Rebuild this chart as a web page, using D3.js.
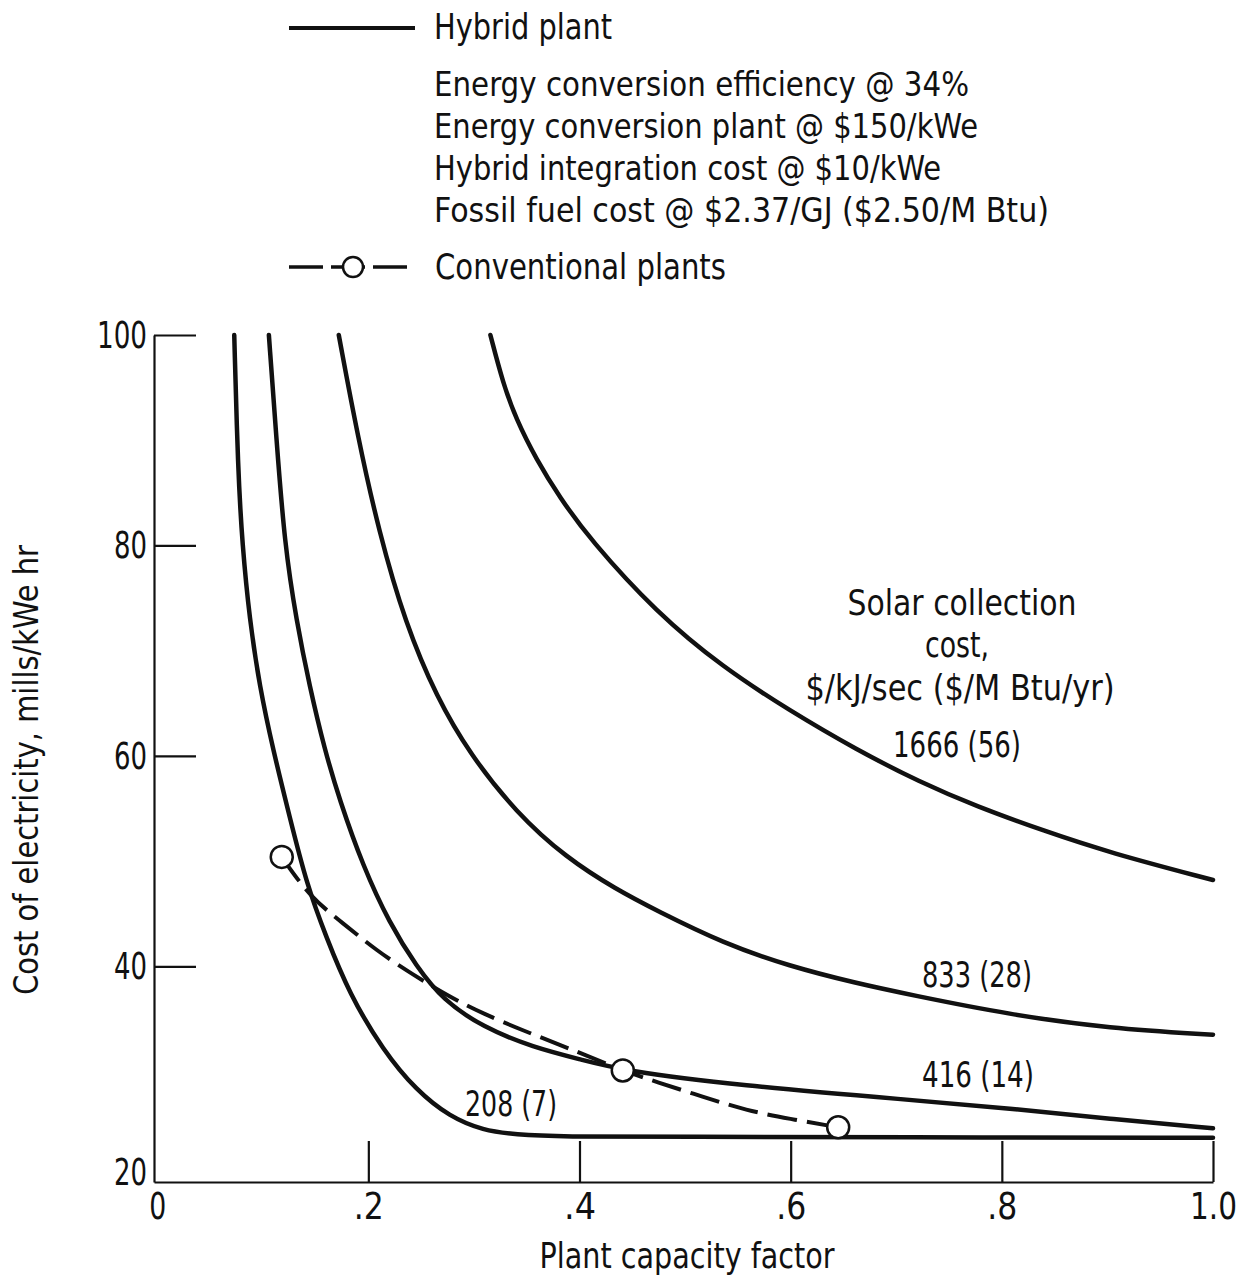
<!DOCTYPE html>
<html>
<head>
<meta charset="utf-8">
<script src="https://cdn.jsdelivr.net/npm/d3@7"></script>
<style>
  html, body { margin: 0; padding: 0; background: #fff; }
  svg { display: block; }
  text { font-family: 'Liberation Sans Narrow', 'DejaVu Sans Condensed', 'Liberation Sans', sans-serif; fill: #111; }
</style>
</head>
<body>
<svg id="chart" width="1247" height="1279"></svg>
<script>
// ---- Data ----
const xTickValues = [0, 0.2, 0.4, 0.6, 0.8, 1.0];
const xTickLabels = ["0", ".2", ".4", ".6", ".8", "1.0"];
const yTickValues = [20, 40, 60, 80, 100];
const yTickLabels = ["20", "40", "60", "80", "100"];

// Hybrid plant curves, labelled by solar collection cost $/kJ/sec ($/M Btu/yr)
const hybrid208X = [0.073, 0.0765, 0.0806, 0.0876, 0.097, 0.1097, 0.1255, 0.1413, 0.160, 0.182, 0.214, 0.2455, 0.277, 0.3086, 0.340, 0.38, 0.5, 0.7, 1.0];
const hybrid208Y = [100, 87.2, 80.1, 72.9, 66.6, 60.6, 54.2, 47.9, 42.8, 37.4, 32.0, 28.2, 25.7, 24.4, 24.0, 23.8, 23.8, 23.75, 23.7];

const hybrid416X = [0.1058, 0.1128, 0.1207, 0.1318, 0.1444, 0.1586, 0.1728, 0.195, 0.220, 0.2455, 0.2707, 0.3086, 0.356, 0.403, 0.441, 0.549, 0.713, 0.8076, 0.902, 1.0];
const hybrid416Y = [100, 90.3, 80.1, 72.9, 66.6, 60.6, 55.8, 49.5, 44.1, 40.0, 36.8, 34.2, 32.3, 31.1, 30.1, 28.7, 27.3, 26.5, 25.5, 24.6];

const hybrid833X = [0.172, 0.19, 0.21, 0.235, 0.265, 0.296, 0.340, 0.3876, 0.435, 0.473, 0.536, 0.599, 0.662, 0.713, 0.8076, 0.902, 1.0];
const hybrid833Y = [100, 90.3, 81.3, 72.6, 65.5, 60.2, 54.6, 50.3, 47.3, 45.3, 42.2, 40.0, 38.4, 37.3, 35.4, 34.1, 33.5];

const hybrid1666X = [0.3156, 0.3276, 0.340, 0.359, 0.381, 0.4097, 0.473, 0.536, 0.599, 0.662, 0.7224, 0.776, 0.839, 0.902, 1.0];
const hybrid1666Y = [100, 95.4, 92.0, 88.2, 84.6, 80.6, 73.6, 68.4, 64.3, 60.6, 57.5, 55.2, 52.9, 50.8, 48.2];

// Conventional plants (dashed) and its three plant points
const conventionalX = [0.118, 0.1444, 0.176, 0.2076, 0.2423, 0.277, 0.3086, 0.3465, 0.3876, 0.441, 0.473, 0.517, 0.558, 0.599, 0.645];
const conventionalY = [50.4, 46.6, 44.1, 41.5, 39.2, 37.1, 35.5, 33.9, 32.3, 30.1, 29.0, 27.6, 26.3, 25.5, 24.7];
const plantPointsX = [0.118, 0.441, 0.645];
const plantPointsY = [50.4, 30.1, 24.7];

const curveNames = ["208 (7)", "416 (14)", "833 (28)", "1666 (56)"];

const legendLines = [
  "Energy conversion efficiency @  34%",
  "Energy conversion plant @  $150/kWe",
  "Hybrid integration cost @  $10/kWe",
  "Fossil fuel cost @  $2.37/GJ ($2.50/M Btu)"
];

// ---- Drawing ----
const svg = d3.select("#chart");
const x = d3.scaleLinear().domain([-0.003, 1.0]).range([154, 1213]);
const y = d3.scaleLinear().domain([19.5, 100]).range([1182, 335]);
const labelFont = "'Liberation Sans Narrow', 'DejaVu Sans Condensed', sans-serif";

// Axes
const xLabelWidths = { "0": 17, ".2": 30, ".4": 32, ".6": 30, ".8": 30, "1.0": 47 };
const xAxis = d3.axisBottom(x)
  .tickValues(xTickValues)
  .tickFormat((d, i) => xTickLabels[i])
  .tickSizeInner(-41)
  .tickSizeOuter(0)
  .tickPadding(11);
const gx = svg.append("g").attr("transform", `translate(0,${y.range()[0]})`).call(xAxis);
gx.select(".domain").attr("stroke", "#111").attr("stroke-width", 2.2);
gx.selectAll(".tick line").attr("stroke", "#111").attr("stroke-width", 2.2)
  .filter(d => d === 0).remove();
gx.selectAll(".tick text").attr("font-size", 37).attr("dy", "0.71em")
  .style("font-family", labelFont).attr("fill", "#111")
  .attr("textLength", (d, i) => xLabelWidths[xTickLabels[i]])
  .attr("lengthAdjust", "spacingAndGlyphs");

const yLabelWidths = { "20": 33, "40": 33, "60": 33, "80": 33, "100": 50 };
const yAxis = d3.axisLeft(y)
  .tickValues(yTickValues)
  .tickFormat((d, i) => yTickLabels[i])
  .tickSizeInner(-42)
  .tickSizeOuter(0)
  .tickPadding(7);
const gy = svg.append("g").attr("transform", `translate(${x.range()[0]},0)`).call(yAxis);
gy.select(".domain").attr("stroke", "#111").attr("stroke-width", 2.2);
gy.selectAll(".tick line").attr("stroke", "#111").attr("stroke-width", 2.2)
  .filter(d => d === 20).remove();
gy.selectAll(".tick text").attr("font-size", 38)
  .style("font-family", labelFont).attr("fill", "#111")
  .attr("textLength", (d, i) => yLabelWidths[yTickLabels[i]])
  .attr("lengthAdjust", "spacingAndGlyphs");
gy.selectAll(".tick").filter(d => d === 20).select("text").attr("dy", "0.2em");

// Lines
const line = d3.line().x(d => x(d[0])).y(d => y(d[1])).curve(d3.curveBasis);
const zip = (a, b) => a.map((v, i) => [v, b[i]]);

const hybridSeries = [
  zip(hybrid208X, hybrid208Y),
  zip(hybrid416X, hybrid416Y),
  zip(hybrid833X, hybrid833Y),
  zip(hybrid1666X, hybrid1666Y)
];

svg.append("path").datum(zip(conventionalX, conventionalY))
  .attr("d", line).attr("fill", "none").attr("stroke", "#111")
  .attr("stroke-width", 4).attr("stroke-dasharray", "30,10");

svg.selectAll(".hybrid").data(hybridSeries).enter().append("path")
  .attr("class", "hybrid")
  .attr("d", line).attr("fill", "none").attr("stroke", "#111")
  .attr("stroke-width", 4.5).attr("stroke-linecap", "round");

svg.selectAll(".plant").data(zip(plantPointsX, plantPointsY)).enter().append("circle")
  .attr("class", "plant")
  .attr("cx", d => x(d[0])).attr("cy", d => y(d[1])).attr("r", 11)
  .attr("fill", "#fff").attr("stroke", "#111").attr("stroke-width", 2.5);

// Text helper
function addText(txt, px, py, size, width, anchor) {
  const t = svg.append("text").attr("x", px).attr("y", py).attr("font-size", size)
    .attr("text-anchor", anchor || "start").style("font-family", labelFont).text(txt);
  if (width) t.attr("textLength", width).attr("lengthAdjust", "spacingAndGlyphs");
  return t;
}
// Curve labels
addText(curveNames[0], 511, 1116, 35, 92, "middle");
addText(curveNames[1], 978, 1087, 35, 112, "middle");
addText(curveNames[2], 977, 987, 35, 110, "middle");
addText(curveNames[3], 957, 757, 35, 128, "middle");

addText("Solar collection", 962, 615, 35, 229, "middle");
addText("cost,", 957, 657, 35, 64, "middle");
addText("$/kJ/sec ($/M Btu/yr)", 960, 700, 35, 309, "middle");

// Axis titles
addText("Plant capacity factor", 687, 1268, 35, 295, "middle");
svg.append("text")
  .attr("transform", "translate(38,770) rotate(-90)")
  .attr("text-anchor", "middle").attr("font-size", 34)
  .attr("textLength", 450).attr("lengthAdjust", "spacingAndGlyphs")
  .style("font-family", labelFont)
  .text("Cost of electricity,  mills/kWe hr");

// Legend
svg.append("line").attr("x1", 289).attr("x2", 415).attr("y1", 28).attr("y2", 28)
  .attr("stroke", "#111").attr("stroke-width", 4);
addText("Hybrid plant", 434, 39, 35, 178);
const legendBaselines = [96, 138, 180, 222];
const legendWidths = [535, 544, 507, 615];
legendLines.forEach((t, i) => addText(t, 434, legendBaselines[i], 34, legendWidths[i]));

svg.append("line").attr("x1", 289).attr("x2", 415).attr("y1", 267).attr("y2", 267)
  .attr("stroke", "#111").attr("stroke-width", 3.5).attr("stroke-dasharray", "34,8");
svg.append("circle").attr("cx", 353).attr("cy", 267).attr("r", 10)
  .attr("fill", "#fff").attr("stroke", "#111").attr("stroke-width", 2.5);
addText("Conventional plants", 435, 279, 35, 291);
</script>
</body>
</html>
